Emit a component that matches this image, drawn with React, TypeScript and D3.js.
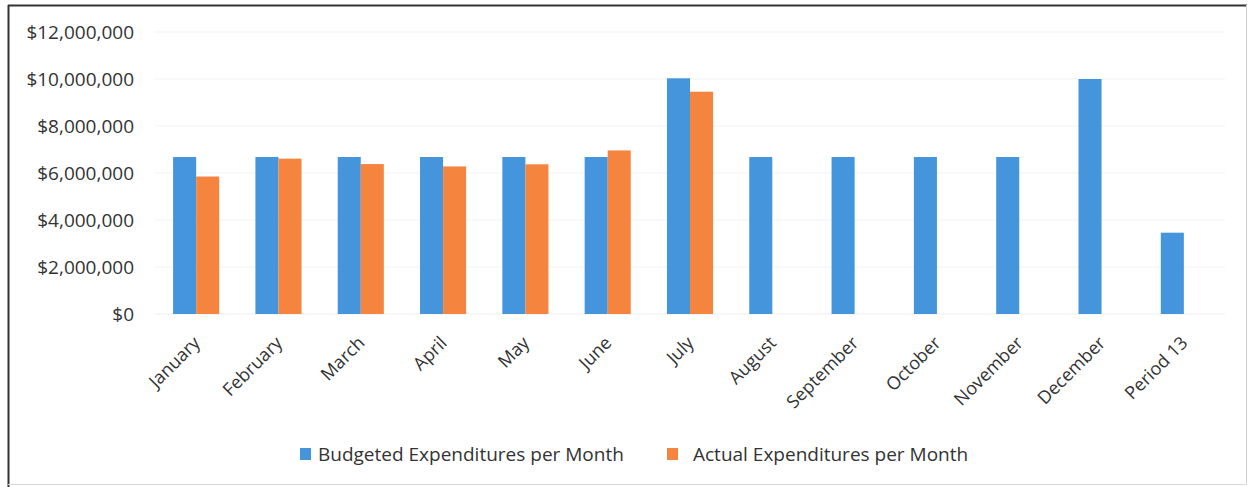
import React from "react";
import * as d3 from "d3";

const categories = ["January","February","March","April","May","June","July","August","September","October","November","December","Period 13"];
const budgeted = [6680000,6680000,6680000,6680000,6680000,6680000,10030000,6680000,6680000,6680000,6680000,10000000,3460000];
const actual: (number|null)[] = [5850000,6610000,6380000,6280000,6370000,6960000,9460000,null,null,null,null,null,null];
const yTicks = [0,2000000,4000000,6000000,8000000,10000000,12000000];
const seriesNames = ["Budgeted Expenditures per Month","Actual Expenditures per Month"];
const colors = ["#4495dc","#f5843f"];

const W = 1249, H = 487;
const FONT = "'Open Sans', sans-serif";

export default function App() {
  const x = d3.scaleBand<string>().domain(categories).range([155, 1225]).padding(0);
  const y = d3.scaleLinear().domain([0, 12000000]).range([314, 32]);
  const bw = x.bandwidth();
  const barW = bw * 0.28;
  const fmt = (v: number) => "$" + d3.format(",")(v);

  return (
    <svg width={W} height={H} style={{ position: "absolute", left: 0, top: 0, background: "#fff" }} fontFamily={FONT}>
      <rect x={0} y={0} width={W} height={H} fill="#fff" />
      <line x1={8.5} y1={5} x2={8.5} y2={487} stroke="#333" strokeWidth={2} />
      <line x1={8} y1={5.5} x2={1247} y2={5.5} stroke="#333" strokeWidth={2} />
      <line x1={1246.5} y1={5} x2={1246.5} y2={485} stroke="#cfcfcf" strokeWidth={1} />
      <line x1={8} y1={484.5} x2={1247} y2={484.5} stroke="#d8d8d8" strokeWidth={1} />
      {yTicks.map((t) => (
        <line key={"g" + t} x1={155} x2={1225} y1={y(t)} y2={y(t)} stroke={t === 0 ? "#eeeeee" : "#f3f3f3"} strokeWidth={1} />
      ))}
      {yTicks.map((t) => (
        <text key={"t" + t} x={134} y={y(t)} dy="0.35em" textAnchor="end" fontSize={19} fill="#333">{fmt(t)}</text>
      ))}
      {categories.map((c, i) => {
        const cx = (x(c) as number) + bw / 2;
        const a = actual[i];
        return (
          <g key={c}>
            <rect x={cx - barW} y={y(budgeted[i])} width={barW} height={y(0) - y(budgeted[i])} fill={colors[0]} />
            {a != null && (
              <rect x={cx} y={y(a)} width={barW} height={y(0) - y(a)} fill={colors[1]} />
            )}
          </g>
        );
      })}
      {categories.map((c) => {
        const cx = (x(c) as number) + bw / 2;
        return (
          <text key={"x" + c} transform={`translate(${cx + 5},${344}) rotate(-45)`} textAnchor="end" fontSize={18} fill="#333">{c}</text>
        );
      })}
      <rect x={300} y={448} width={11} height={12} fill={colors[0]} />
      <text x={318} y={454} dy="0.35em" fontSize={19} fill="#333">{seriesNames[0]}</text>
      <rect x={667} y={448} width={11} height={12} fill={colors[1]} />
      <text x={693} y={454} dy="0.35em" fontSize={19} fill="#333">{seriesNames[1]}</text>
    </svg>
  );
}
